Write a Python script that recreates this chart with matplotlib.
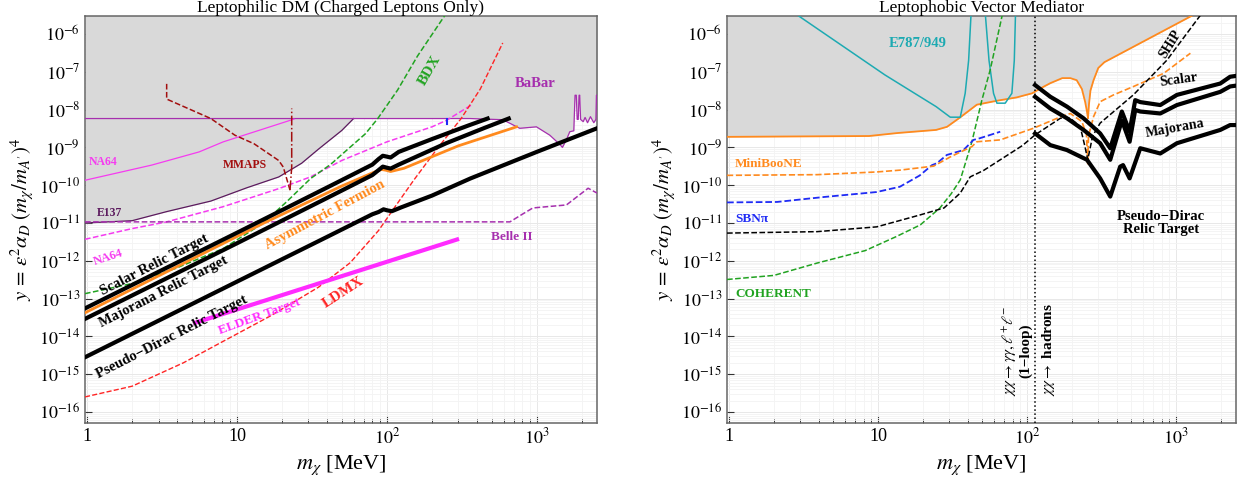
import numpy as np
import matplotlib.pyplot as plt
from matplotlib.ticker import FixedLocator, FixedFormatter, LogLocator, NullFormatter

plt.rcParams['font.family'] = ['Liberation Serif', 'DejaVu Serif']
plt.rcParams['mathtext.fontset'] = 'stix'

# ---------------- left panel : leptophilic DM ----------------
e137_m = [0.97, 2.0, 3.4, 6.7, 11.6, 19, 27, 35, 50, 60]
e137_y = [1.0e-11, 1.15e-11, 2.0e-11, 3.8e-11, 8.5e-11, 1.65e-10, 3.8e-10, 9e-10, 2.8e-9, 5.8e-9]

babar_m = [0.97, 360, 594, 770, 995, 1222, 1423, 1483, 1577, 1660, 1766, 1800, 1835, 1860, 1890,
           1915, 1935, 1960, 2040, 2100, 2180, 2280, 2400, 2480, 2500, 2520]
babar_y = [5.8e-9, 5.8e-9, 5.4e-9, 3.2e-9, 3.5e-9, 2.1e-9, 1.2e-9, 1.0e-9, 1.6e-9, 2.6e-9, 2.75e-9,
           2.4e-8, 2.4e-8, 5.5e-9, 5.5e-9, 2.4e-8, 2.4e-8, 5.5e-9, 4.8e-9, 6.2e-9, 4.5e-9, 6.5e-9,
           4.5e-9, 5.5e-9, 2.4e-8, 2.4e-8]

na64_m = [0.97, 2.7, 5.6, 8.1, 24]
na64_y = [1.35e-10, 3.4e-10, 7.6e-10, 1.4e-9, 5.6e-9]

na64p_m = [0.97, 2.0, 3.4, 8.1, 19, 31, 50, 100, 200, 250, 375]
na64p_y = [3.7e-12, 7.1e-12, 1.07e-11, 2.7e-11, 8.1e-11, 1.66e-10, 4.5e-10, 1.4e-9, 3.5e-9, 5.2e-9, 1.4e-8]

mmaps_m = [3.4, 3.4, 6.7, 9.7, 13, 19, 20.4, 22.6]
mmaps_y = [4.8e-8, 1.9e-8, 5.8e-9, 2.1e-9, 1.25e-9, 4.5e-10, 3e-10, 7.4e-11]
mmaps_v_m = [22.6, 23.2, 23.2]
mmaps_v_y = [7.4e-11, 3e-10, 1.07e-8]

bdx_m = [0.97, 2.0, 3.9, 8.1, 14.9, 21.4, 31, 42, 55, 72, 87, 118, 160, 245]
bdx_y = [1.35e-13, 2.5e-13, 6.3e-13, 2.1e-12, 9.8e-12, 3.6e-11, 1.5e-10, 3.5e-10, 9e-10, 2.3e-9,
         5.8e-9, 3.3e-8, 2.6e-7, 3.2e-6]

ldmx_m = [0.97, 2, 4.4, 8.1, 16.8, 35, 57, 88, 112, 152, 220, 313, 420, 593]
ldmx_y = [2.5e-16, 4.8e-16, 2e-15, 7.4e-15, 3.5e-14, 2e-13, 8.9e-13, 6.3e-12, 2.5e-11, 1.4e-10,
          1e-9, 5.8e-9, 3.5e-8, 5.8e-7]

belle_m = [0.97, 662, 800, 942, 1577, 2200, 2520]
belle_y = [1.07e-11, 1.07e-11, 1.7e-11, 2.5e-11, 3e-11, 8.3e-11, 6.2e-11]

scalar_m = [0.97, 10, 40, 80, 88, 94, 100, 106, 120, 200, 350, 470]
scalar_y = [5.5e-14, 5.5e-12, 8.7e-11, 3.5e-10, 4.9e-10, 6.0e-10, 5.7e-10, 5.4e-10, 7.6e-10,
            1.66e-9, 3.8e-9, 5.8e-9]

major_m = [0.97, 10, 40, 80, 88, 94, 100, 106, 120, 250, 450, 650]
major_y = [2.9e-14, 2.9e-12, 4.6e-11, 1.85e-10, 2.5e-10, 3.1e-10, 2.9e-10, 2.75e-10, 3.5e-10,
           1.3e-9, 3.3e-9, 5.8e-9]

asym_m = [0.97, 15, 50, 82, 92, 98, 106, 130, 300, 733]
asym_y = [4.2e-14, 9.8e-12, 9.5e-11, 2.2e-10, 2.6e-10, 2.5e-10, 2.3e-10, 2.8e-10, 1.1e-9, 3.5e-9]

pdirac_m = [0.97, 10, 40, 80, 88, 95, 101, 108, 125, 200, 360, 1000, 2520]
pdirac_y = [2.8e-15, 2.8e-13, 4.3e-12, 1.7e-11, 1.95e-11, 2.3e-11, 2.15e-11, 2.05e-11, 2.6e-11,
            5.3e-11, 1.5e-10, 7.6e-10, 3.2e-9]

elder_m = [5.1, 303]
elder_y = [2.2e-14, 3.8e-12]

bluetick_m = [250, 250]
bluetick_y = [5.8e-9, 4.2e-9]

# ---------------- right panel : leptophobic ----------------
osolid_m = [0.97, 8.7, 13.5, 24.5, 29, 35.5, 46, 64, 85, 108, 127, 143, 172, 195, 215, 233, 245,
            252, 256, 260, 266, 279, 300, 330, 1285]
osolid_y = [1.9e-9, 2.0e-9, 2.4e-9, 2.9e-9, 3.5e-9, 6.2e-9, 1.35e-8, 1.74e-8, 2.1e-8, 2.7e-8, 3.9e-8,
            5e-8, 6.8e-8, 6.8e-8, 6e-8, 3.5e-8, 1.6e-8, 8.9e-9, 5.9e-9, 1.4e-8, 3.2e-8, 6e-8,
            1.26e-7, 1.8e-7, 3.1e-6]

e787a_m = [2.9, 11.1, 24.5, 30.5, 35.6, 38.4, 40.5, 42]
e787a_y = [3.1e-6, 8.3e-8, 1.2e-8, 6.3e-9, 6.3e-9, 2.7e-8, 2e-7, 3.1e-6]
e787b_m = [52.5, 55.5, 59.5, 62.7, 71.3, 79, 82, 83.5]
e787b_y = [3.1e-6, 2e-7, 2.7e-8, 1.48e-8, 1.48e-8, 2.7e-8, 2e-7, 3.1e-6]

coh_m = [0.97, 2.0, 3.9, 8.2, 13.3, 19.2, 26, 31, 35.6, 42.6, 49.7, 56.5, 68]
coh_y = [3.2e-13, 4.1e-13, 8.7e-13, 1.86e-12, 4.4e-12, 8.9e-12, 2.5e-11, 6e-11, 1.38e-10, 1.41e-9,
         1.78e-8, 1.12e-7, 3.1e-6]

sbn_m = [0.97, 2.1, 4.4, 9.8, 14, 19, 23, 24.8, 28.9, 37.4, 43.7, 48, 66]
sbn_y = [3.5e-11, 3.6e-11, 4.9e-11, 6.6e-11, 9.1e-11, 1.8e-10, 3.4e-10, 3.8e-10, 6.3e-10, 8.5e-10,
         1.58e-9, 1.74e-9, 2.6e-9]

mb_m = [0.97, 3.9, 9.8, 14, 23.6, 30.5, 42.6, 46, 66, 110, 159, 195, 233, 250, 255, 258, 279, 309,
        380, 518, 824, 1245]
mb_y = [1.82e-10, 1.9e-10, 2.24e-10, 2.5e-10, 3.2e-10, 5.6e-10, 1.05e-9, 1.41e-9, 1.58e-9, 3.2e-9,
        5.9e-9, 7.9e-9, 4.8e-9, 2.2e-9, 3.7e-10, 2e-9, 6.5e-9, 1.62e-8, 2.45e-8, 4.1e-8, 9.1e-8, 3.1e-7]

bdash_m = [0.97, 3.9, 9.8, 19, 27.7, 35.6, 41.5, 51, 66, 93, 113, 167, 195, 227, 245, 255, 275,
           309, 516, 867, 1450]
bdash_y = [5.4e-12, 5.9e-12, 7.9e-12, 1.62e-11, 2.5e-11, 6.2e-11, 1.66e-10, 2.45e-10, 4.7e-10,
           1.12e-9, 2.14e-9, 5.9e-9, 5.9e-9, 3.55e-9, 1e-9, 4.7e-10, 2e-9, 4.4e-9, 2.45e-8, 2.04e-7,
           3.1e-6]

rel_m = [113, 143, 185, 239, 309, 361, 432, 487, 531, 574, 782, 1011, 1976, 2300, 2520]
rscalar_y = [4.47e-8, 2.19e-8, 1.2e-8, 5.89e-9, 2.34e-9, 9.5e-10, 8.9e-9, 2.63e-9, 1.78e-8, 1.58e-8,
             1.32e-8, 2.45e-8, 4.9e-8, 7.4e-8, 7.8e-8]
rmajor_y = [2.19e-8, 1.07e-8, 5.9e-9, 2.9e-9, 1.29e-9, 4.7e-10, 5.2e-9, 1.41e-9, 9.8e-9, 8.9e-9,
            7.9e-9, 1.32e-8, 2.95e-8, 4.1e-8, 4.3e-8]
rpd_m = [113, 143, 185, 252, 309, 361, 421, 440, 487, 574, 782, 1011, 1976, 2300, 2520]
rpd_y = [2.34e-9, 1.15e-9, 8.5e-10, 4.7e-10, 1.51e-10, 5e-11, 3.1e-10, 3.4e-10, 1.51e-10, 9.5e-10,
         6.9e-10, 1.29e-9, 2.9e-9, 3.9e-9, 3.9e-9]

vline_m = 113

xticks = [1, 10, 100, 1000]
xticklabels = ['1', '10', r'$10^2$', r'$10^3$']
yticks = [1e-16, 1e-15, 1e-14, 1e-13, 1e-12, 1e-11, 1e-10, 1e-9, 1e-8, 1e-7, 1e-6]
yticklabels = [r'$10^{-%d}$' % k for k in range(16, 5, -1)]

gray = '#D9D9D9'
c_babar = '#A62FAE'
c_e137 = '#5C1A5E'
c_na64 = '#F53BF0'
c_mmaps = '#A30F0F'
c_bdx = '#21A321'
c_ldmx = '#FF2424'
c_orange = '#FF8A1E'
c_cyan = '#1DAAB2'
c_blue = '#1F2BF5'

fig = plt.figure(figsize=(12.39, 4.82), dpi=100)
ax1 = fig.add_axes([0.0686, 0.1224, 0.4132, 0.845])
ax2 = fig.add_axes([0.5868, 0.1224, 0.4108, 0.845])

for ax, title in [(ax1, 'Leptophilic DM (Charged Leptons Only)'), (ax2, 'Leptophobic Vector Mediator')]:
    ax.set_xscale('log')
    ax.set_yscale('log')
    ax.set_xlim(0.97, 2520)
    ax.set_ylim(5.1e-17, 3.05e-6)
    ax.set_axisbelow(True)
    ax.xaxis.set_major_locator(FixedLocator(xticks))
    ax.xaxis.set_major_formatter(FixedFormatter(xticklabels))
    ax.xaxis.set_minor_locator(LogLocator(base=10, subs=np.arange(2, 10), numticks=20))
    ax.xaxis.set_minor_formatter(NullFormatter())
    ax.yaxis.set_major_locator(FixedLocator(yticks))
    ax.yaxis.set_major_formatter(FixedFormatter(yticklabels))
    ax.yaxis.set_minor_locator(LogLocator(base=10, subs=np.arange(2, 10), numticks=60))
    ax.yaxis.set_minor_formatter(NullFormatter())
    ax.tick_params(which='both', direction='in', top=False, right=False, color='#333333', labelsize=13)
    ax.tick_params(which='major', length=5, width=0.8)
    ax.tick_params(axis='x', which='minor', length=3, width=0.7)
    ax.tick_params(axis='y', which='minor', length=0)
    ax.grid(which='major', color='#E8E8E8', lw=0.7)
    ax.grid(which='minor', color='#F3F3F3', lw=0.6)
    for s in ax.spines.values():
        s.set_color('#666666')
        s.set_linewidth(1.1)
    ax.set_title(title, fontsize=12.5, pad=1)
    ax.set_xlabel(r'$m_\chi$ [MeV]', fontsize=16, labelpad=4)
    ax.set_ylabel(r'$y\,=\,\epsilon^2\alpha_D\ (m_\chi/m_{A^\prime})^4$', fontsize=15, labelpad=2)

# ---- left panel ----
bm = np.array(babar_m)
by = np.array(babar_y)
keep = bm > e137_m[-1]
low_m = np.concatenate([e137_m, bm[keep]])
low_y = np.concatenate([e137_y, by[keep]])
ax1.fill_between(low_m, low_y, 1e-5, color=gray, lw=0, zorder=1)

ax1.plot(e137_m, e137_y, color=c_e137, lw=0.9, zorder=3)
ax1.plot(babar_m, babar_y, color=c_babar, lw=0.9, zorder=3)
ax1.plot(na64_m, na64_y, color=c_na64, lw=0.9, zorder=3)
ax1.plot(na64p_m, na64p_y, color=c_na64, lw=1.1, ls='--', zorder=3)
ax1.plot(mmaps_m, mmaps_y, color=c_mmaps, lw=1.1, ls='--', zorder=3)
ax1.plot(mmaps_v_m, mmaps_v_y, color=c_mmaps, lw=1.1, ls='-.', zorder=3)
ax1.plot(bdx_m, bdx_y, color=c_bdx, lw=1.1, ls='--', zorder=3)
ax1.plot(ldmx_m, ldmx_y, color=c_ldmx, lw=1.0, ls='--', zorder=3)
ax1.plot(belle_m, belle_y, color=c_babar, lw=1.1, ls='--', zorder=3)
ax1.plot(bluetick_m, bluetick_y, color=c_blue, lw=1.5, zorder=3)
ax1.plot(elder_m, elder_y, color='#FF2BFF', lw=3, zorder=4, solid_capstyle='butt')
ax1.plot(asym_m, asym_y, color=c_orange, lw=2, zorder=4)
ax1.plot(scalar_m, scalar_y, color='k', lw=3, zorder=4)
ax1.plot(major_m, major_y, color='k', lw=3, zorder=4)
ax1.plot(pdirac_m, pdirac_y, color='k', lw=3, zorder=4)

tk = dict(fontweight='bold', ha='center', va='center', zorder=6)
ax1.text(192, 1.07e-7, 'BDX', color=c_bdx, fontsize=11, rotation=60, **tk)
ax1.text(970, 4.8e-8, 'BaBar', color=c_babar, fontsize=10.5, **tk)
ax1.text(1.03, 4.2e-10, 'NA64', color=c_na64, fontsize=8.5, fontweight='bold', ha='left', va='center', zorder=6)
ax1.text(11.3, 3.4e-10, 'MMAPS', color=c_mmaps, fontsize=8.5, **tk)
ax1.text(1.17, 1.8e-11, 'E137', color=c_e137, fontsize=8.5, fontweight='bold', ha='left', va='center', zorder=6)
ax1.text(1.38, 1.26e-12, 'NA64', color=c_na64, fontsize=9, rotation=18, **tk)
ax1.text(2.8, 7.6e-13, 'Scalar Relic Target', color='k', fontsize=10.5, rotation=27, **tk)
ax1.text(3.25, 1.5e-13, 'Majorana Relic Target', color='k', fontsize=10.5, rotation=27, **tk)
ax1.text(3.7, 9.6e-15, 'Pseudo\u2212Dirac Relic Target', color='k', fontsize=10.5, rotation=27, **tk)
ax1.text(38.7, 1.6e-11, 'Asymmetric Fermion', color=c_orange, fontsize=10.5, rotation=28, **tk)
ax1.text(51, 1.5e-13, 'LDMX', color=c_ldmx, fontsize=11, rotation=33, **tk)
ax1.text(14.2, 3.4e-14, 'ELDER Target', color='#FF2BFF', fontsize=9.5, rotation=20, **tk)
ax1.text(678, 4.3e-12, 'Belle II', color=c_babar, fontsize=9.5, **tk)

# ---- right panel ----
ax2.fill_between(osolid_m, osolid_y, 1e-5, color=gray, lw=0, zorder=1)
ax2.plot(osolid_m, osolid_y, color=c_orange, lw=1.3, zorder=3)
ax2.plot(e787a_m, e787a_y, color=c_cyan, lw=1.1, zorder=3)
ax2.plot(e787b_m, e787b_y, color=c_cyan, lw=1.1, zorder=3)
ax2.plot(coh_m, coh_y, color=c_bdx, lw=1.1, ls='--', zorder=3)
ax2.plot(sbn_m, sbn_y, color=c_blue, lw=1.3, ls='--', zorder=3)
ax2.plot(mb_m, mb_y, color=c_orange, lw=1.2, ls='--', zorder=3)
ax2.plot(bdash_m, bdash_y, color='k', lw=1.1, ls='--', zorder=3)
ax2.axvline(vline_m, color='k', lw=1.1, ls=':', zorder=3)
ax2.plot(rel_m, rscalar_y, color='k', lw=3, zorder=4)
ax2.plot(rel_m, rmajor_y, color='k', lw=3, zorder=4)
ax2.plot(rpd_m, rpd_y, color='k', lw=3, zorder=4)

ax2.text(18.3, 5.5e-7, 'E787/949', color=c_cyan, fontsize=10.5, **tk)
ax2.text(912, 5.5e-7, 'SHiP', color='k', fontsize=10, rotation=58, **tk)
ax2.text(1040, 6.2e-8, 'Scalar', color='k', fontsize=10, rotation=8, **tk)
ax2.text(985, 3.2e-9, 'Majorana', color='k', fontsize=10, rotation=10, **tk)
ax2.text(789, 9.8e-12, 'Pseudo\u2212Dirac\nRelic Target', color='k', fontsize=10.5,
         linespacing=1.0, **tk)
lk = dict(fontweight='bold', ha='left', va='center', zorder=6, fontsize=9.5)
ax2.text(1.1, 3.7e-10, 'MiniBooNE', color=c_orange, **lk)
ax2.text(1.1, 1.3e-11, 'SBN\u03c0', color=c_blue, **lk)
ax2.text(1.1, 1.35e-13, 'COHERENT', color=c_bdx, **lk)
ax2.text(85, 2.6e-16, r'$\chi\chi\rightarrow\gamma\gamma,\ell^{+}\ell^{-}$' + '\n(1\u2212loop)', color='k',
         fontsize=11, fontweight='bold', rotation=90, ha='center', va='bottom',
         multialignment='center', linespacing=0.95, zorder=6)
ax2.text(139, 2.6e-16, r'$\chi\chi\rightarrow$ hadrons', color='k', fontsize=11, fontweight='bold',
         rotation=90, ha='center', va='bottom', zorder=6)

fig.savefig('out.png', dpi=100)
